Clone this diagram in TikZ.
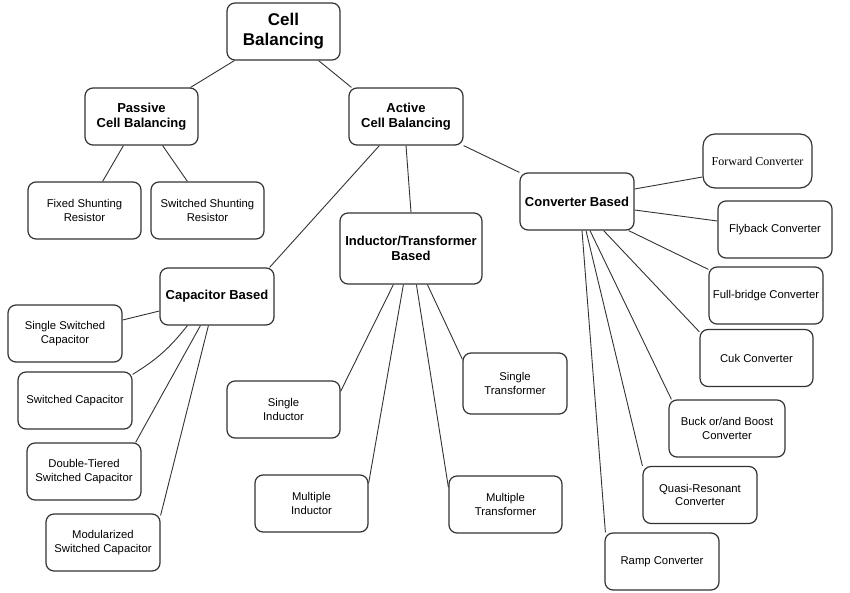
\documentclass[tikz,border=0pt]{standalone}
\usepackage{fontspec}
\setmainfont{Liberation Sans}
\newfontfamily\timesfont{Liberation Serif}
\usetikzlibrary{positioning}
\tikzstyle{leaf} = [draw=black!80, line width=1.2pt, rounded corners=8pt, fill=white, minimum width=113pt, minimum height=57pt, inner sep=2pt, align=center, font=\fontsize{11.3}{13.8}\selectfont]
\tikzstyle{branch} = [leaf, font=\fontsize{13}{15.5}\selectfont\bfseries]
\tikzstyle{link} = [draw=black!80, line width=0.9pt]

\begin{document}
\begin{tikzpicture}[x=1pt,y=-1pt]
        \useasboundingbox (0,0) rectangle (850,593);

        % top levels
        \node[branch, font=\fontsize{17}{20}\selectfont\bfseries] (Cell) at (283.5,31.5) {Cell\\Balancing};
        \node[branch] (Passive) at (141.5,116.5) {Passive\\Cell Balancing};
        \node[branch, minimum width=114pt] (Active) at (406,116.5) {Active\\Cell Balancing};

        % passive
        \node[leaf] (Fixed) at (84.5,210.5) {Fixed Shunting\\Resistor};
        \node[leaf] (SwShunt) at (207.5,210.5) {Switched Shunting\\Resistor};

        % active groups
        \node[branch, minimum width=114pt] (Capacitor) at (217,296.5) {Capacitor Based};
        \node[branch, minimum width=142pt, minimum height=71pt] (Inductor) at (411,248.5) {Inductor/Transformer\\Based};
        \node[branch, minimum width=114pt] (Converter) at (577,201.5) {Converter Based};

        % capacitor based
        \node[leaf, minimum width=114pt] (SSC) at (65,333.5) {Single Switched\\Capacitor};
        \node[leaf, minimum width=114pt] (SC) at (75,400.5) {Switched Capacitor};
        \node[leaf, minimum width=114pt] (DTSC) at (84,471.5) {Double-Tiered\\Switched Capacitor};
        \node[leaf, minimum width=114pt] (MSC) at (103,542.5) {Modularized\\Switched Capacitor};

        % inductor/transformer based
        \node[leaf] (SI) at (283.5,409.5) {Single\\Inductor};
        \node[leaf] (MI) at (311.5,503.5) {Multiple\\Inductor};
        \node[leaf, minimum width=104pt, minimum height=61pt] (ST) at (515,383.5) {Single\\Transformer};
        \node[leaf] (MT) at (505.5,504.5) {Multiple\\Transformer};

        % converter based
        \node[leaf, minimum width=109pt, minimum height=54pt, rounded corners=12pt, font=\fontsize{12}{14}\timesfont] (Forward) at (757.5,161) {Forward Converter};
        \node[leaf, minimum width=114pt] (Flyback) at (775,229.5) {Flyback Converter};
        \node[leaf, minimum width=114pt] (Full) at (766,295.5) {Full-bridge Converter};
        \node[leaf] (Cuk) at (756.5,358) {Cuk Converter};
        \node[leaf, minimum width=116pt] (Buck) at (727,428.5) {Buck or/and Boost\\Converter};
        \node[leaf, minimum width=114pt] (Quasi) at (700,495) {Quasi-Resonant\\Converter};
        \node[leaf, minimum width=114pt] (Ramp) at (662,561.5) {Ramp Converter};

        \path[link]
            ([xshift=8pt]Cell.south west) edge ([xshift=-8pt]Passive.north east)
            ([xshift=-22pt]Cell.south east) edge ([xshift=3pt]Active.north west)
            ([xshift=39pt]Passive.south west) edge ([xshift=-39pt]Fixed.north east)
            ([xshift=-36pt]Passive.south east) edge ([xshift=37pt]SwShunt.north west)
            ([xshift=31pt]Active.south west) edge ([xshift=-5pt]Capacitor.north east)
            (Active.south) edge (Inductor.north)
            (Active.south east) edge (Converter.north west);

        \path[link]
            ([yshift=-14.5pt]Capacitor.west) edge ([yshift=13.5pt]SSC.east)
            ([xshift=28pt]Capacitor.south west) edge[bend left=10] ([yshift=-3pt]SC.north east)
            ([xshift=41pt]Capacitor.south west) edge ([xshift=-6pt]DTSC.north east)
            ([xshift=49pt]Capacitor.south west) edge ([yshift=-2pt]MSC.north east);

        \path[link]
            ([xshift=54pt]Inductor.south west) edge ([yshift=-11pt]SI.north east)
            ([xshift=64pt]Inductor.south west) edge ([yshift=-9pt]MI.north east)
            ([xshift=77pt]Inductor.south west) edge ([yshift=-12pt]MT.north west)
            ([xshift=88pt]Inductor.south west) edge ([yshift=-7pt]ST.north west);

        \path[link]
            ([yshift=12.5pt]Converter.east) edge ([yshift=-16pt]Forward.west)
            ([yshift=-8.5pt]Converter.east) edge ([yshift=8.5pt]Flyback.west)
            ([xshift=-6pt]Converter.south east) edge ([yshift=-3pt]Full.north west)
            ([xshift=-31pt]Converter.south east) edge ([yshift=-3pt]Cuk.north west)
            ([xshift=13pt]Converter.south) edge ([xshift=3pt]Buck.north west)
            ([xshift=9pt]Converter.south) edge (Quasi.north west)
            ([xshift=5pt]Converter.south) edge ([xshift=1pt]Ramp.north west);

\end{tikzpicture}
\end{document}
